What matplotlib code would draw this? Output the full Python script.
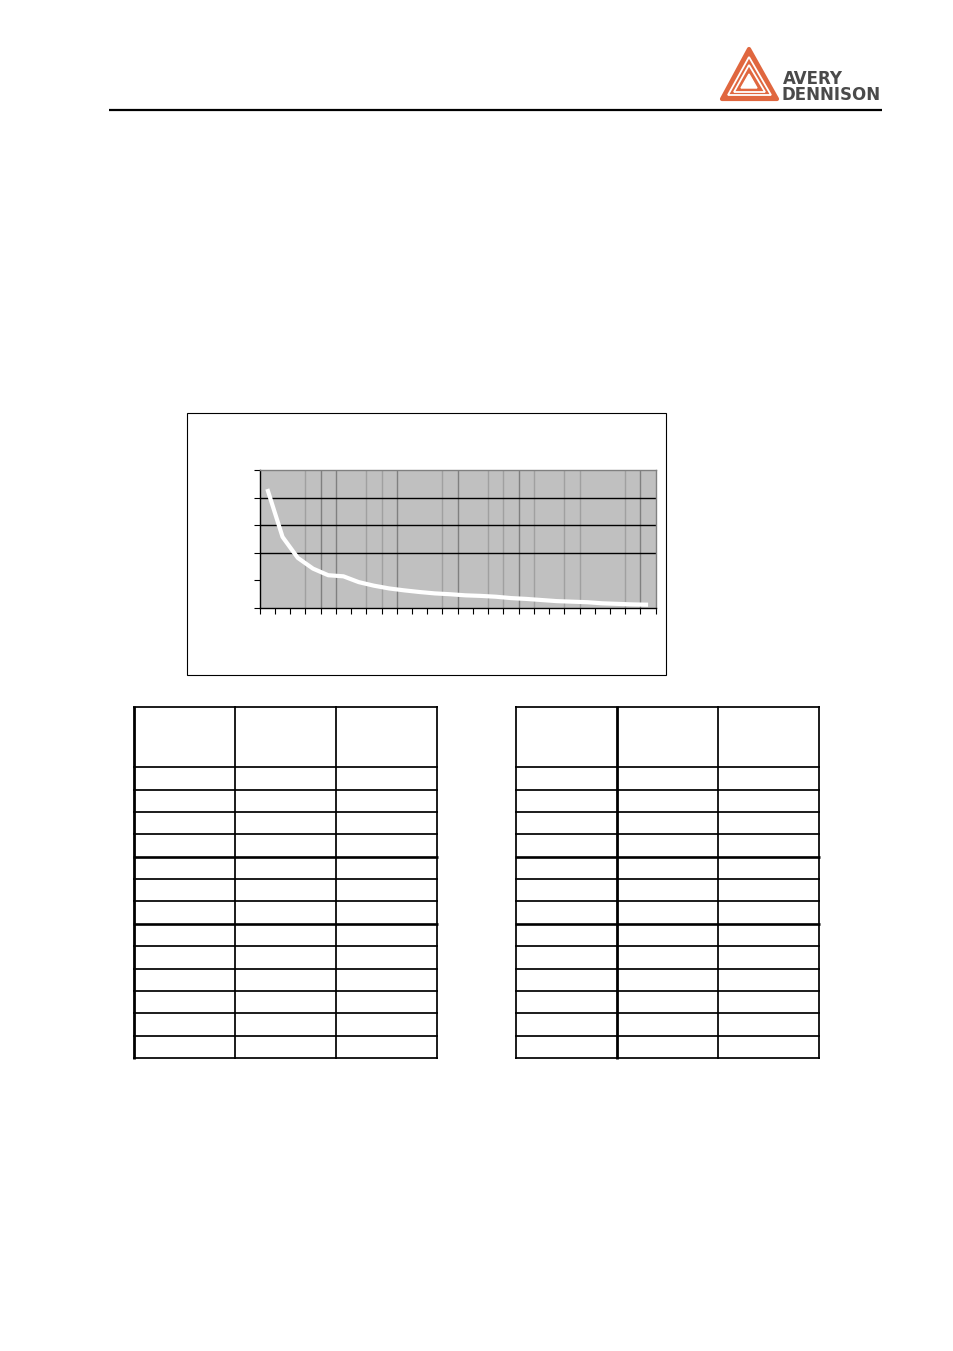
import numpy as np
import matplotlib
matplotlib.use('Agg')
import matplotlib.pyplot as plt
from matplotlib.patches import Rectangle, Polygon

W, H = 954, 1351

# curve values (one per category)
values = [4.32, 2.58, 1.82, 1.43, 1.19, 1.15, 0.94, 0.81, 0.71, 0.64,
          0.58, 0.53, 0.50, 0.46, 0.44, 0.41, 0.36, 0.33, 0.29, 0.25,
          0.23, 0.21, 0.17, 0.15, 0.13, 0.12]
n_cat = 26
y_ticks = [0, 1, 2, 3, 4, 5]
h_grid = [2, 3, 4]
v_grid_dark = [4, 5, 9, 13, 17, 25]
v_grid_light = [3, 7, 8, 12, 15, 16, 18, 20, 21, 24]

# table row boundaries (pixels) and columns
row_lines = [707, 767, 789.7, 812.3, 834.3, 856.7, 879.3, 901.3, 923.7,
             946.3, 968.7, 991.3, 1013.3, 1035.7, 1058]
thick_rows = [856.7, 923.7]
left_cols = [134, 235.3, 336.3, 437.3]
right_cols = [515.7, 616.7, 718.3, 819.3]


def px(x, y):
    return x / W, 1 - y / H


fig = plt.figure(figsize=(W / 100, H / 100), dpi=100)
bg = fig.add_axes([0, 0, 1, 1])
bg.set_xlim(0, W)
bg.set_ylim(H, 0)
bg.axis('off')

# header rule
bg.plot([109, 882], [110, 110], color='black', lw=1.6, solid_capstyle='butt')

# logo (rough)
orange = '#e0673f'
bg.add_patch(Polygon([(722, 99), (749, 49), (777, 99)], closed=True,
                     fc=orange, ec=orange, lw=3, joinstyle='round'))
bg.add_patch(Polygon([(728, 95), (749, 57), (771, 95)], closed=True,
                     fc='none', ec='white', lw=1.3))
bg.add_patch(Polygon([(734, 92), (749, 65), (765, 92)], closed=True,
                     fc='none', ec='white', lw=1.3))
bg.add_patch(Polygon([(741, 88), (749, 74), (757, 88)], closed=True,
                     fc='white', ec='white', lw=1))
bg.text(783, 79, 'AVERY', fontsize=12, fontweight='bold', color='#4a4a4a',
        family='DejaVu Sans', va='center', ha='left')
bg.text(782, 95, 'DENNISON', fontsize=12, fontweight='bold', color='#4a4a4a',
        family='DejaVu Sans', va='center', ha='left')

# chart frame
bg.add_patch(Rectangle((187, 413), 479, 262, fc='white', ec='black', lw=0.8))

# plot area
x0, x1, yt, yb = 259.7, 655.7, 470.3, 608
l, b = px(x0, yb)
ax = fig.add_axes([l, b, (x1 - x0) / W, (yb - yt) / H])
ax.set_facecolor('#c0c0c0')
ax.set_xlim(0, n_cat)
ax.set_ylim(0, 5)
for g in v_grid_light:
    ax.axvline(g, color='#a0a0a0', lw=1)
for g in v_grid_dark:
    ax.axvline(g, color='#808080', lw=1)
for g in h_grid:
    ax.axhline(g, color='black', lw=1)
xs = np.arange(len(values)) + 0.5
ax.plot(xs, values, color='white', lw=3, solid_capstyle='butt')
ax.set_xticks(range(n_cat + 1))
ax.set_yticks(y_ticks)
ax.set_xticklabels([])
ax.set_yticklabels([])
ax.tick_params(direction='out', length=4, width=0.8, color='black')
ax.spines['left'].set_color('black')
ax.spines['bottom'].set_color('black')
ax.spines['top'].set_color('#808080')
ax.spines['right'].set_color('#808080')
for s in ax.spines.values():
    s.set_linewidth(1)


def draw_table(cols, thick_col):
    top, bot = row_lines[0], row_lines[-1]
    for y in row_lines:
        lw = 1.9 if y in thick_rows else 1.25
        bg.plot([cols[0] - 0.8, cols[-1] + 0.8], [y, y], color='black', lw=lw,
                solid_capstyle='butt')
    for i, x in enumerate(cols):
        lw = 2.0 if i == thick_col else 1.25
        bg.plot([x, x], [top - 0.8, bot + 0.8], color='black', lw=lw,
                solid_capstyle='butt')


draw_table(left_cols, 0)
draw_table(right_cols, 1)

fig.savefig('out.png', dpi=100)
